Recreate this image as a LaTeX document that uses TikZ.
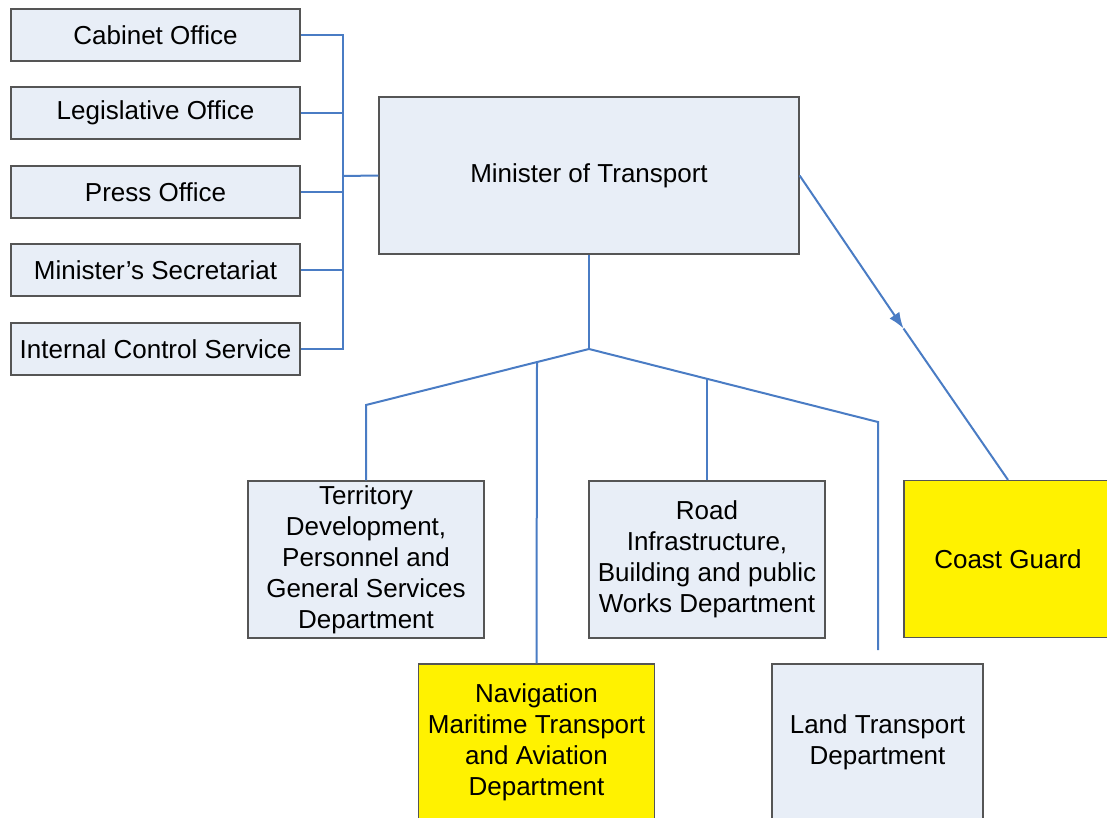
\documentclass[tikz,border=0pt]{standalone}
\usepackage{fontspec}
\setmainfont{Liberation Sans}
\usetikzlibrary{arrows.meta}

\definecolor{bleutrait}{RGB}{74,124,196}
\definecolor{fondboite}{RGB}{232,238,247}
\definecolor{bordboite}{RGB}{85,85,85}

\tikzset{boite/.style = {draw = bordboite, line width = 1.2pt, fill = fondboite,
                         align = center, inner sep = 0pt,
                         minimum width = #1, minimum height = 157pt,
                         font = \fontsize{26}{31}\selectfont},
         boite/.default = 236pt,
         petite/.style = {boite = 289pt, minimum height = 52pt},
         lien/.style = {draw = bleutrait, line width = 2pt}
        }

\begin{document}
\begin{tikzpicture}[x=1pt, y=-1pt]
\useasboundingbox (0,0) rectangle (1107,818);
\clip (0,0) rectangle (1107,818);
% services du cabinet
\node[petite] at (155.5,35) (cab) {Cabinet Office};
\node[petite] at (155.5,113) (leg) {Legislative Office};
\node[petite] at (155.5,192) (pre) {Press Office};
\node[petite] at (155.5,270) (sec) {Minister’s Secretariat};
\node[petite] at (155.5,349) (ics) {Internal Control Service};
% ministre et directions
\node[boite = 420pt] at (589,175.5) (mt) {Minister of Transport};
\node[boite] at (366,559.5) (ter) {Territory\\Development,\\Personnel and\\General Services\\Department};
\node[boite] at (707,559.5) (route) {Road\\Infrastructure,\\Building and public\\Works Department};
\node[boite, fill = yellow] at (536.5,742.5) (nav) {Navigation\\Maritime Transport\\and Aviation\\Department};
\node[boite = 211pt] at (877.5,742.5) (land) {Land Transport\\Department};
\node[boite = 208pt, fill = yellow] at (1008,559) (cg) {Coast Guard};
% points de passage
\coordinate (bus) at (343,176);
\coordinate (fourche) at (589,349);
\coordinate (coudeg) at (366,405);
\coordinate (couded) at (878,422);
\coordinate (pnav) at (537,362);
\coordinate (proute) at (707,379);
\coordinate (finland) at (878,650);
\coordinate (pointe) at (903.5,328.5);
\draw[lien] (cab.east) -| (bus) |- (ics.east);
\draw[lien] (leg.east) -- (leg.east -| bus);
\draw[lien] (pre.east) -- (pre.east -| bus);
\draw[lien] (sec.east) -- (sec.east -| bus);
\draw[lien] (bus) -- (mt.west);
\draw[lien] (mt.south) -- (fourche);
\draw[lien] (ter.north) -- (coudeg) -- (fourche) -- (couded) -- (finland);
\draw[lien] (pnav) -- (nav.north);
\draw[lien] (proute) -- (route.north);
\draw[lien, -{Latex[length=16pt, width=12pt]}] (mt.east) -- (pointe);
\draw[lien] (pointe) -- (cg.north);
\end{tikzpicture}
\end{document}
